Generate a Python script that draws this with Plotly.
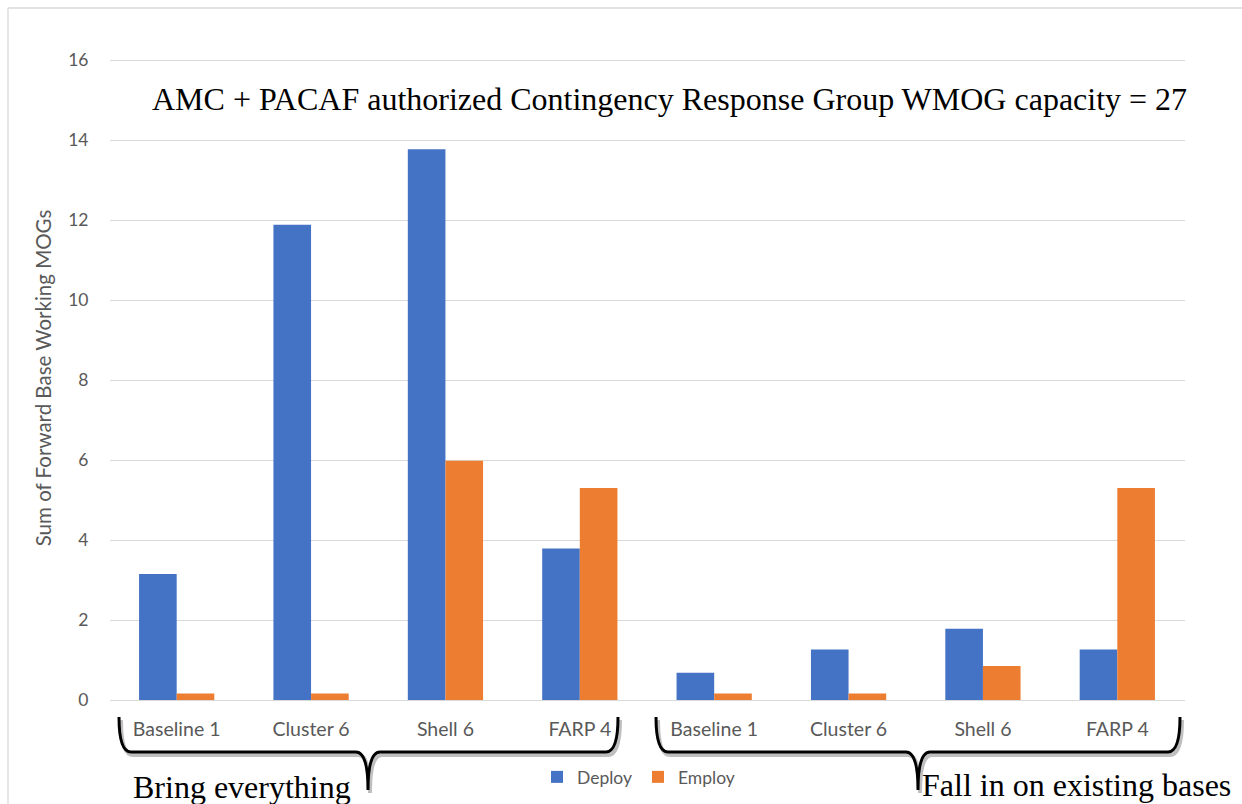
import plotly.graph_objects as go

# ---- data ----
groups = ["Bring everything"] * 4 + ["Fall in on existing bases"] * 4
scenarios = ["Baseline 1", "Cluster 6", "Shell 6", "FARP 4"] * 2
deploy = [3.15, 11.88, 13.77, 3.79, 0.68, 1.26, 1.78, 1.26]
employ = [0.16, 0.16, 5.98, 5.3, 0.16, 0.16, 0.85, 5.3]
y_ticks = [0, 2, 4, 6, 8, 10, 12, 14, 16]
capacity_note = "AMC + PACAF authorized Contingency Response Group WMOG capacity = 27"
y_title = "Sum of Forward Base Working MOGs"

keys = [f"{g}|{s}" for g, s in zip(groups, scenarios)]

W, H = 1242, 804
def px(x):
    return x / W
def py(y):
    return 1 - y / H

BLUE = "#4472C4"
ORANGE = "#ED7D31"
GRAY = "#595959"
SANS = "Lato, 'Open Sans', sans-serif"
SERIF = "'Liberation Serif', 'Times New Roman', serif"

fig = go.Figure()
fig.add_trace(go.Bar(name="Deploy", x=keys, y=deploy, marker=dict(color=BLUE, line=dict(width=0))))
fig.add_trace(go.Bar(name="Employ", x=keys, y=employ, marker=dict(color=ORANGE, line=dict(width=0))))

fig.update_layout(
    width=W, height=H,
    template="none",
    paper_bgcolor="white", plot_bgcolor="white",
    margin=dict(l=0, r=0, t=0, b=0),
    barmode="group", bargap=0.44, bargroupgap=0,
    font=dict(family=SANS, color=GRAY),
    xaxis=dict(
        domain=[px(109.5), px(1184.5)],
        type="category",
        tickvals=keys, ticktext=scenarios,
        tickfont=dict(family=SANS, size=19.5, color=GRAY),
        showgrid=False, showline=False, zeroline=False, ticks="",
        automargin=False, ticklabelstandoff=15,
    ),
    yaxis=dict(
        domain=[py(700), py(56)],
        range=[0, 16.1], tickvals=y_ticks,
        tickfont=dict(family=SANS, size=17.5, color=GRAY),
        showgrid=True, gridcolor="#D9D9D9", gridwidth=1.3,
        zeroline=True, zerolinecolor="#D9D9D9", zerolinewidth=1.3,
        showline=False, ticks="", automargin=False, ticklabelstandoff=20,
        title=dict(text=y_title, font=dict(family=SANS, size=20.5, color=GRAY), standoff=11),
    ),
    legend=dict(
        orientation="h", x=px(638), xanchor="center", y=py(777), yanchor="middle",
        font=dict(family=SANS, size=17.5, color=GRAY),
        itemwidth=30, entrywidth=56, entrywidthmode="pixels",
        traceorder="normal", bgcolor="rgba(0,0,0,0)",
    ),
    showlegend=True,
)

# chart border (top and left edges visible)
fig.add_shape(type="line", xref="paper", yref="paper", x0=px(8), x1=px(1242), y0=py(8), y1=py(8),
              line=dict(color="#D9D9D9", width=1.3))
fig.add_shape(type="line", xref="paper", yref="paper", x0=px(8), x1=px(8), y0=py(8), y1=py(804),
              line=dict(color="#D9D9D9", width=1.3))

def brace_path(x0, x1, xm, ytop, ybot, ytip, dx=0, dy=0):
    pts = lambda x, y: f"{px(x + dx)},{py(y + dy)}"
    r = 12
    return (f"M {pts(x0, ytop)} Q {pts(x0, ybot)} {pts(x0 + r, ybot)} "
            f"L {pts(xm - r, ybot)} Q {pts(xm, ybot)} {pts(xm, ytip)} "
            f"Q {pts(xm, ybot)} {pts(xm + r, ybot)} "
            f"L {pts(x1 - r, ybot)} Q {pts(x1, ybot)} {pts(x1, ytop)}")

for (x0, x1, xm) in [(119, 618, 368), (656, 1180, 918)]:
    fig.add_shape(type="path", xref="paper", yref="paper",
                  path=brace_path(x0, x1, xm, 717, 752, 790, dx=2, dy=3),
                  line=dict(color="rgba(0,0,0,0.25)", width=4))
    fig.add_shape(type="path", xref="paper", yref="paper",
                  path=brace_path(x0, x1, xm, 717, 752, 790),
                  line=dict(color="black", width=3))

fig.add_annotation(text=capacity_note, xref="paper", yref="paper", x=px(670), y=py(99),
                   xanchor="center", yanchor="middle", showarrow=False,
                   font=dict(family=SERIF, size=32, color="black"))
fig.add_annotation(text=groups[0], xref="paper", yref="paper", x=px(131), y=py(787),
                   xanchor="left", yanchor="middle", showarrow=False,
                   font=dict(family=SERIF, size=32, color="black"))
fig.add_annotation(text=groups[4], xref="paper", yref="paper", x=px(920), y=py(785),
                   xanchor="left", yanchor="middle", showarrow=False,
                   font=dict(family=SERIF, size=32, color="black"))

fig.write_html("out.html", config={"displayModeBar": False},
               post_script="document.body.style.margin='0';document.body.style.overflow='hidden';")
